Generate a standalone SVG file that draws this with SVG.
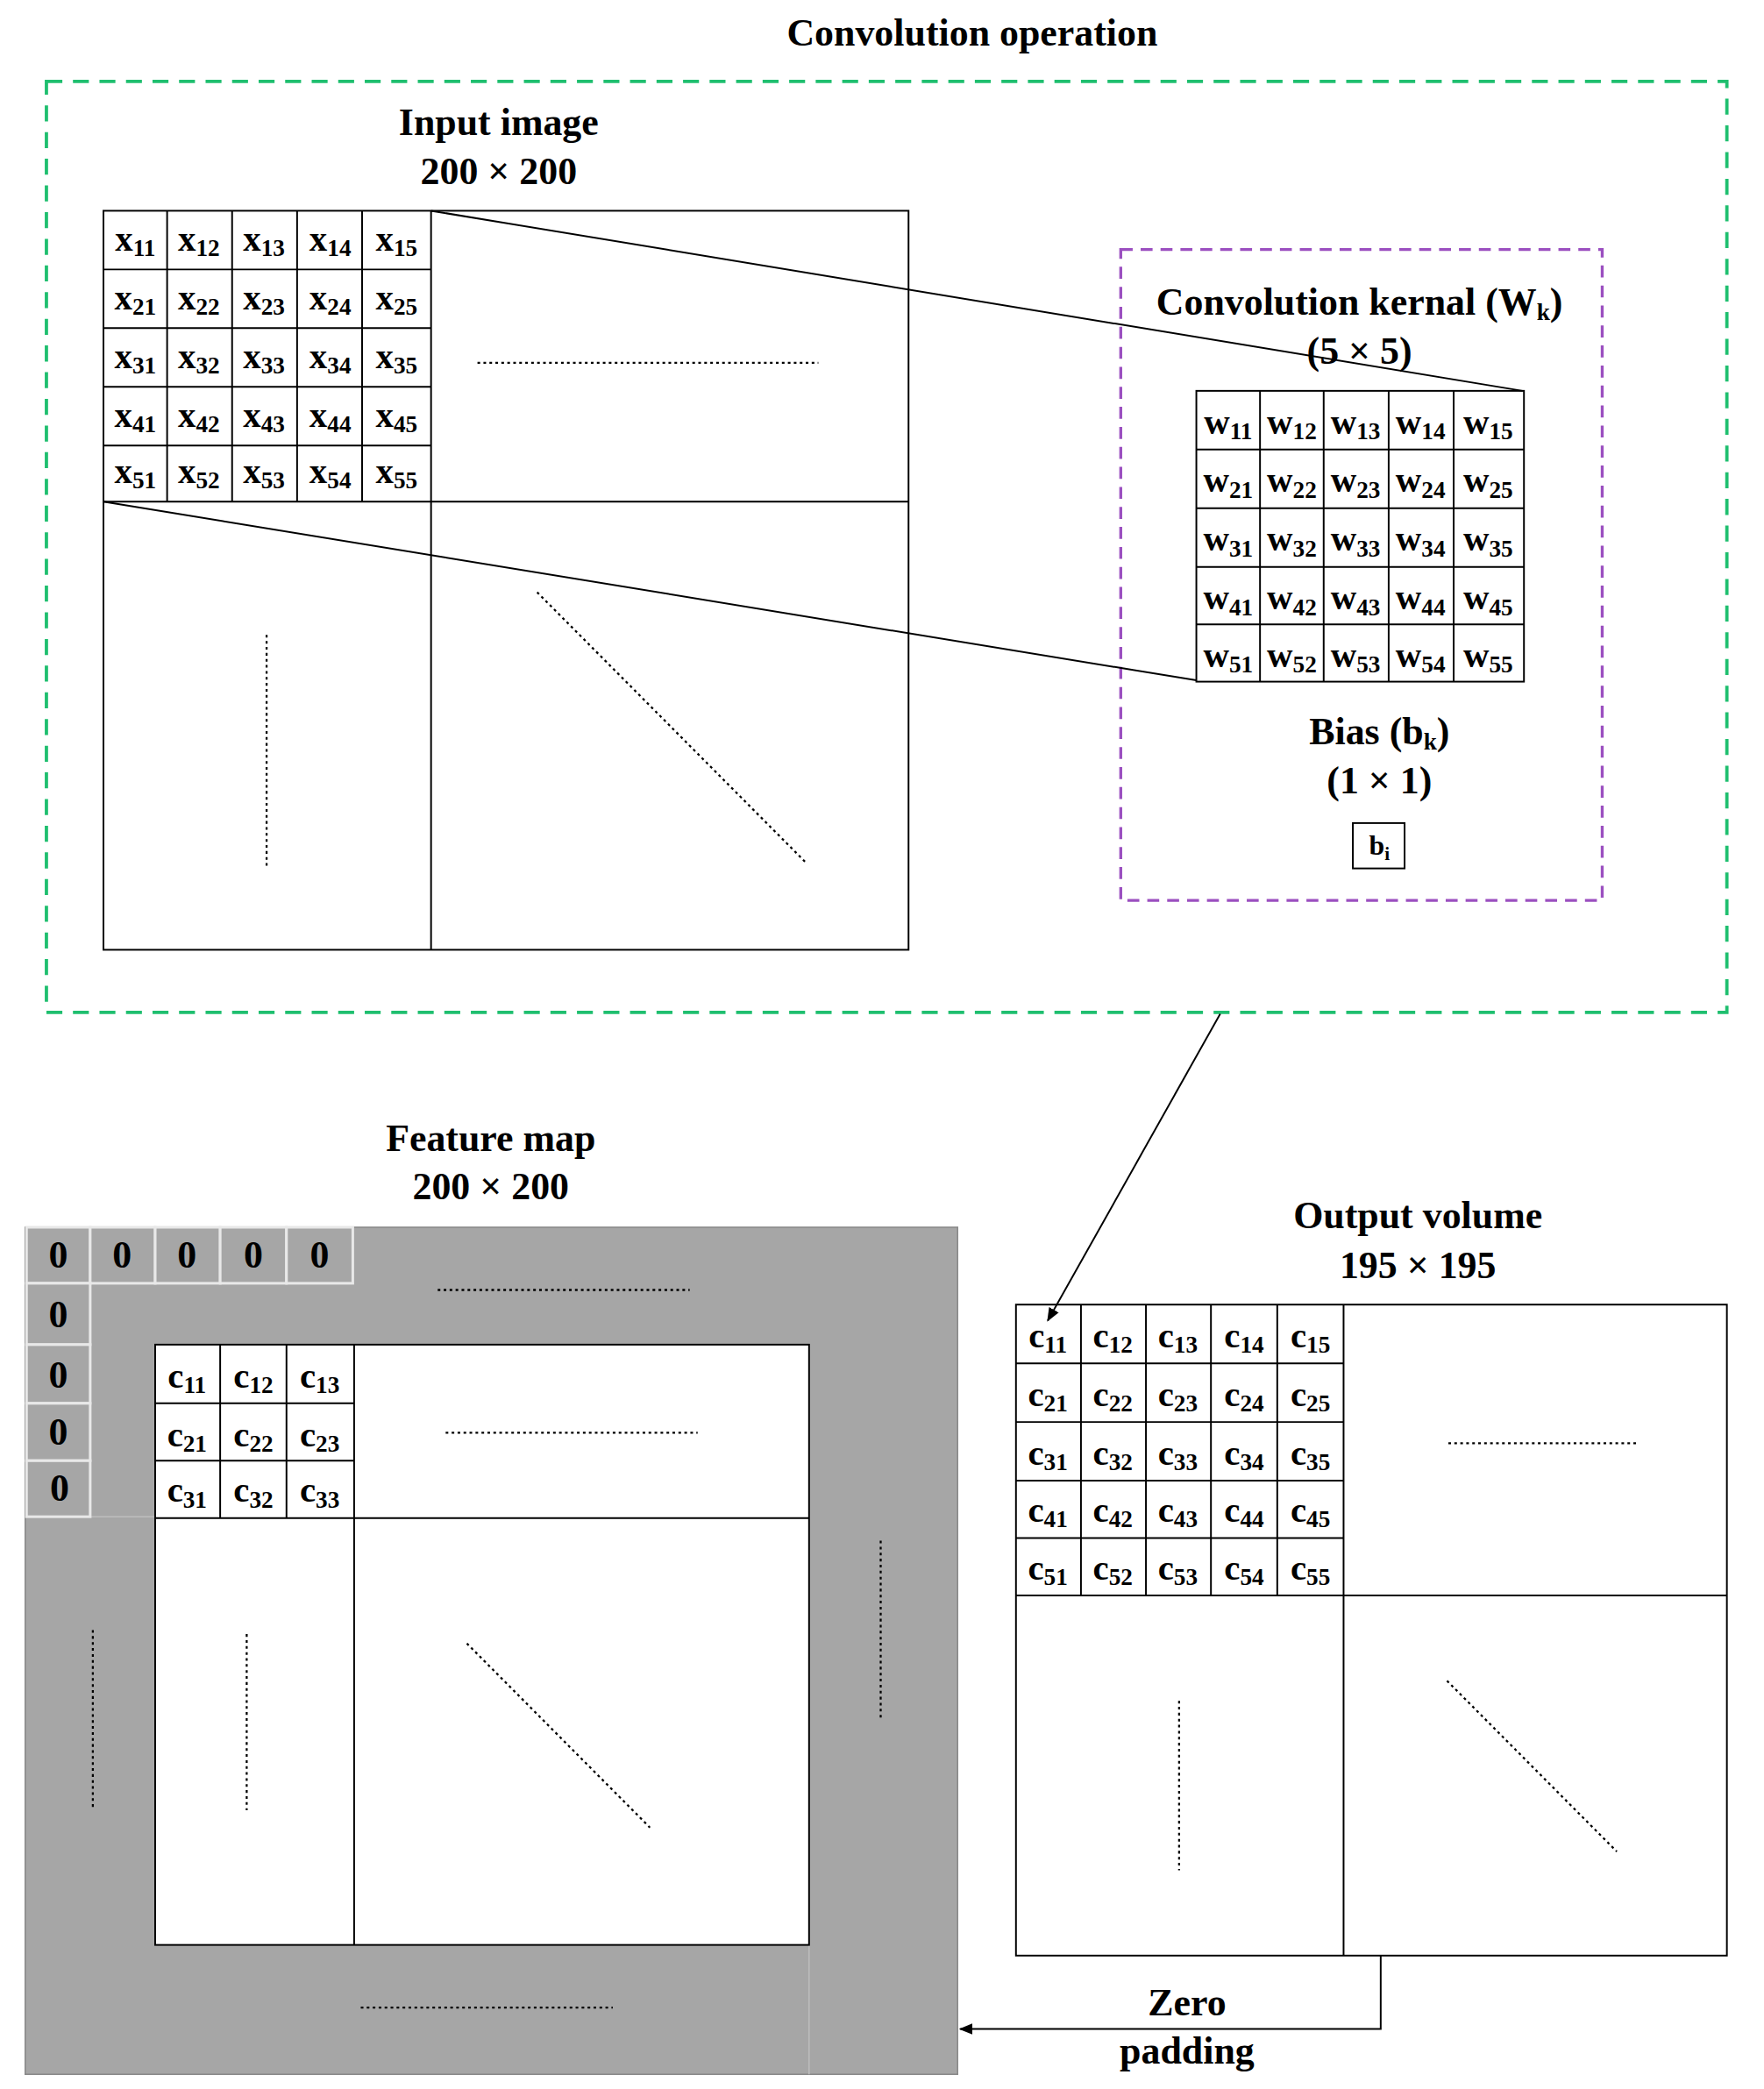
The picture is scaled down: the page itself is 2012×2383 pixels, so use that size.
<svg xmlns="http://www.w3.org/2000/svg" width="2012" height="2383" viewBox="0 0 2012 2383">
<defs>
<style>
text{font-family:"Liberation Serif","Times New Roman",serif;font-weight:bold;fill:#000}
.t{font-size:29px;text-anchor:middle}
.c{font-size:27px;text-anchor:middle}
.s{font-size:18px}
.ln{stroke:#000;stroke-width:1.3;fill:none}
.dot{stroke:#000;stroke-width:1.5;stroke-dasharray:2 2.5;fill:none}
.z{fill:#a6a6a6;stroke:#e8e8e8;stroke-width:2}
</style>
<marker id="ah" viewBox="0 0 10 10" refX="9" refY="5" markerWidth="8" markerHeight="8" orient="auto-start-reverse"><path d="M0,1 L10,5 L0,9 z" fill="#000"/></marker>
</defs>
<rect width="2012" height="2383" fill="#fff"/>
<g transform="scale(1.5128 1.5217)">
<text class="t" x="733" y="34">Convolution operation</text>
<g id="convbox"><rect x="35" y="61" width="1267" height="698" fill="none" stroke="#1fbf6f" stroke-width="2.5" stroke-dasharray="12 8"/></g>
<g id="input">
<text class="t" x="376" y="101">Input image</text>
<text class="t" x="376" y="138">200 × 200</text>
<rect class="ln" x="78" y="158" width="607" height="554"/>
<path class="ln" d="M325,158V712M78,376H685M126,158V376M175,158V376M224,158V376M273,158V376M78,202H325M78,246H325M78,290H325M78,334H325"/>
<path class="dot" d="M360,272H617M201,476V650M405,444L607,646"/>
<text class="c" x="102" y="188">x<tspan class="s" dy="4">11</tspan></text>
<text class="c" x="150" y="188">x<tspan class="s" dy="4">12</tspan></text>
<text class="c" x="199" y="188">x<tspan class="s" dy="4">13</tspan></text>
<text class="c" x="249" y="188">x<tspan class="s" dy="4">14</tspan></text>
<text class="c" x="299" y="188">x<tspan class="s" dy="4">15</tspan></text>
<text class="c" x="102" y="232">x<tspan class="s" dy="4">21</tspan></text>
<text class="c" x="150" y="232">x<tspan class="s" dy="4">22</tspan></text>
<text class="c" x="199" y="232">x<tspan class="s" dy="4">23</tspan></text>
<text class="c" x="249" y="232">x<tspan class="s" dy="4">24</tspan></text>
<text class="c" x="299" y="232">x<tspan class="s" dy="4">25</tspan></text>
<text class="c" x="102" y="276">x<tspan class="s" dy="4">31</tspan></text>
<text class="c" x="150" y="276">x<tspan class="s" dy="4">32</tspan></text>
<text class="c" x="199" y="276">x<tspan class="s" dy="4">33</tspan></text>
<text class="c" x="249" y="276">x<tspan class="s" dy="4">34</tspan></text>
<text class="c" x="299" y="276">x<tspan class="s" dy="4">35</tspan></text>
<text class="c" x="102" y="320">x<tspan class="s" dy="4">41</tspan></text>
<text class="c" x="150" y="320">x<tspan class="s" dy="4">42</tspan></text>
<text class="c" x="199" y="320">x<tspan class="s" dy="4">43</tspan></text>
<text class="c" x="249" y="320">x<tspan class="s" dy="4">44</tspan></text>
<text class="c" x="299" y="320">x<tspan class="s" dy="4">45</tspan></text>
<text class="c" x="102" y="362">x<tspan class="s" dy="4">51</tspan></text>
<text class="c" x="150" y="362">x<tspan class="s" dy="4">52</tspan></text>
<text class="c" x="199" y="362">x<tspan class="s" dy="4">53</tspan></text>
<text class="c" x="249" y="362">x<tspan class="s" dy="4">54</tspan></text>
<text class="c" x="299" y="362">x<tspan class="s" dy="4">55</tspan></text>
</g>
<g id="kernelbox">
<rect x="845" y="187" width="363" height="488" fill="none" stroke="#9b4fc0" stroke-width="2.2" stroke-dasharray="9 6"/>
<text class="t" x="1025" y="236">Convolution kernal (W<tspan class="s" dy="4">k</tspan><tspan dy="-4">)</tspan></text>
<text class="t" x="1025" y="273">(5 × 5)</text>
<rect class="ln" x="902" y="293" width="247" height="218"/>
<path class="ln" d="M950,293V511M998,293V511M1047,293V511M1096,293V511M902,337H1149M902,381H1149M902,425H1149M902,468H1149"/>
<text class="c" x="926" y="325">w<tspan class="s" dy="4">11</tspan></text>
<text class="c" x="974" y="325">w<tspan class="s" dy="4">12</tspan></text>
<text class="c" x="1022" y="325">w<tspan class="s" dy="4">13</tspan></text>
<text class="c" x="1071" y="325">w<tspan class="s" dy="4">14</tspan></text>
<text class="c" x="1122" y="325">w<tspan class="s" dy="4">15</tspan></text>
<text class="c" x="926" y="369">w<tspan class="s" dy="4">21</tspan></text>
<text class="c" x="974" y="369">w<tspan class="s" dy="4">22</tspan></text>
<text class="c" x="1022" y="369">w<tspan class="s" dy="4">23</tspan></text>
<text class="c" x="1071" y="369">w<tspan class="s" dy="4">24</tspan></text>
<text class="c" x="1122" y="369">w<tspan class="s" dy="4">25</tspan></text>
<text class="c" x="926" y="413">w<tspan class="s" dy="4">31</tspan></text>
<text class="c" x="974" y="413">w<tspan class="s" dy="4">32</tspan></text>
<text class="c" x="1022" y="413">w<tspan class="s" dy="4">33</tspan></text>
<text class="c" x="1071" y="413">w<tspan class="s" dy="4">34</tspan></text>
<text class="c" x="1122" y="413">w<tspan class="s" dy="4">35</tspan></text>
<text class="c" x="926" y="457">w<tspan class="s" dy="4">41</tspan></text>
<text class="c" x="974" y="457">w<tspan class="s" dy="4">42</tspan></text>
<text class="c" x="1022" y="457">w<tspan class="s" dy="4">43</tspan></text>
<text class="c" x="1071" y="457">w<tspan class="s" dy="4">44</tspan></text>
<text class="c" x="1122" y="457">w<tspan class="s" dy="4">45</tspan></text>
<text class="c" x="926" y="500">w<tspan class="s" dy="4">51</tspan></text>
<text class="c" x="974" y="500">w<tspan class="s" dy="4">52</tspan></text>
<text class="c" x="1022" y="500">w<tspan class="s" dy="4">53</tspan></text>
<text class="c" x="1071" y="500">w<tspan class="s" dy="4">54</tspan></text>
<text class="c" x="1122" y="500">w<tspan class="s" dy="4">55</tspan></text>
<text class="t" x="1040" y="558">Bias (b<tspan class="s" dy="4">k</tspan><tspan dy="-4">)</tspan></text>
<text class="t" x="1040" y="595">(1 × 1)</text>
<rect class="ln" x="1020" y="617" width="39" height="34"/>
<text class="c" x="1040" y="641" style="font-size:21px">b<tspan class="s" dy="4" style="font-size:14px">i</tspan></text>
</g>
<g id="featuremap">
<text class="t" x="370" y="863">Feature map</text>
<text class="t" x="370" y="899">200 × 200</text>
<rect x="19" y="920" width="703" height="635" fill="#a6a6a6" stroke="#888" stroke-width="1"/>
<line x1="610" y1="1458" x2="610" y2="1555" stroke="#bdbdbd" stroke-width="1"/>
<line x1="19" y1="1137" x2="117" y2="1137" stroke="#bdbdbd" stroke-width="1"/>
<rect class="z" x="20" y="920" width="48" height="42"/>
<rect class="z" x="68" y="920" width="49" height="42"/>
<rect class="z" x="117" y="920" width="49" height="42"/>
<rect class="z" x="166" y="920" width="50" height="42"/>
<rect class="z" x="216" y="920" width="50" height="42"/>
<rect class="z" x="20" y="962" width="48" height="46"/>
<rect class="z" x="20" y="1008" width="48" height="44"/>
<rect class="z" x="20" y="1052" width="48" height="43"/>
<rect class="z" x="20" y="1095" width="48" height="42"/>
<text class="t" x="44" y="950">0</text><text class="t" x="92" y="950">0</text><text class="t" x="141" y="950">0</text><text class="t" x="191" y="950">0</text><text class="t" x="241" y="950">0</text>
<text class="t" x="44" y="995">0</text><text class="t" x="44" y="1040">0</text><text class="t" x="44" y="1083">0</text><text class="t" x="45" y="1125">0</text>
<rect x="117" y="1008" width="493" height="450" fill="#fff" stroke="#000" stroke-width="1.3"/>
<path class="ln" d="M267,1008V1458M117,1138H610M166,1008V1138M216,1008V1138M117,1052H267M117,1095H267"/>
<text class="c" x="141" y="1040">c<tspan class="s" dy="4">11</tspan></text>
<text class="c" x="191" y="1040">c<tspan class="s" dy="4">12</tspan></text>
<text class="c" x="241" y="1040">c<tspan class="s" dy="4">13</tspan></text>
<text class="c" x="141" y="1084">c<tspan class="s" dy="4">21</tspan></text>
<text class="c" x="191" y="1084">c<tspan class="s" dy="4">22</tspan></text>
<text class="c" x="241" y="1084">c<tspan class="s" dy="4">23</tspan></text>
<text class="c" x="141" y="1126">c<tspan class="s" dy="4">31</tspan></text>
<text class="c" x="191" y="1126">c<tspan class="s" dy="4">32</tspan></text>
<text class="c" x="241" y="1126">c<tspan class="s" dy="4">33</tspan></text>
<path class="dot" d="M330,967H520M336,1074H526M70,1222V1355M186,1225V1357M352,1232L490,1370M664,1155V1288M272,1505H462"/>
</g>
<g id="output">
<text class="t" x="1069" y="921">Output volume</text>
<text class="t" x="1069" y="958">195 × 195</text>
<rect class="ln" x="766" y="978" width="536" height="488"/>
<path class="ln" d="M1013,978V1466M766,1196H1302M815,978V1196M864,978V1196M913,978V1196M963,978V1196M766,1022H1013M766,1066H1013M766,1110H1013M766,1153H1013"/>
<path class="dot" d="M1092,1082H1235M889,1275V1402M1091,1260L1219,1388"/>
<text class="c" x="790" y="1010">c<tspan class="s" dy="4">11</tspan></text>
<text class="c" x="839" y="1010">c<tspan class="s" dy="4">12</tspan></text>
<text class="c" x="888" y="1010">c<tspan class="s" dy="4">13</tspan></text>
<text class="c" x="938" y="1010">c<tspan class="s" dy="4">14</tspan></text>
<text class="c" x="988" y="1010">c<tspan class="s" dy="4">15</tspan></text>
<text class="c" x="790" y="1054">c<tspan class="s" dy="4">21</tspan></text>
<text class="c" x="839" y="1054">c<tspan class="s" dy="4">22</tspan></text>
<text class="c" x="888" y="1054">c<tspan class="s" dy="4">23</tspan></text>
<text class="c" x="938" y="1054">c<tspan class="s" dy="4">24</tspan></text>
<text class="c" x="988" y="1054">c<tspan class="s" dy="4">25</tspan></text>
<text class="c" x="790" y="1098">c<tspan class="s" dy="4">31</tspan></text>
<text class="c" x="839" y="1098">c<tspan class="s" dy="4">32</tspan></text>
<text class="c" x="888" y="1098">c<tspan class="s" dy="4">33</tspan></text>
<text class="c" x="938" y="1098">c<tspan class="s" dy="4">34</tspan></text>
<text class="c" x="988" y="1098">c<tspan class="s" dy="4">35</tspan></text>
<text class="c" x="790" y="1141">c<tspan class="s" dy="4">41</tspan></text>
<text class="c" x="839" y="1141">c<tspan class="s" dy="4">42</tspan></text>
<text class="c" x="888" y="1141">c<tspan class="s" dy="4">43</tspan></text>
<text class="c" x="938" y="1141">c<tspan class="s" dy="4">44</tspan></text>
<text class="c" x="988" y="1141">c<tspan class="s" dy="4">45</tspan></text>
<text class="c" x="790" y="1184">c<tspan class="s" dy="4">51</tspan></text>
<text class="c" x="839" y="1184">c<tspan class="s" dy="4">52</tspan></text>
<text class="c" x="888" y="1184">c<tspan class="s" dy="4">53</tspan></text>
<text class="c" x="938" y="1184">c<tspan class="s" dy="4">54</tspan></text>
<text class="c" x="988" y="1184">c<tspan class="s" dy="4">55</tspan></text>
</g>
<g id="connectors">
<path class="ln" d="M325,158L1148,293M78,376L902,510"/>
<path class="ln" d="M920,760L790,990" marker-end="url(#ah)"/>
<path class="ln" d="M1041,1466V1521H724" stroke-width="1.8" marker-end="url(#ah)"/>
<text class="t" x="895" y="1511">Zero</text>
<text class="t" x="895" y="1547">padding</text>
</g>
</g>
</svg>
